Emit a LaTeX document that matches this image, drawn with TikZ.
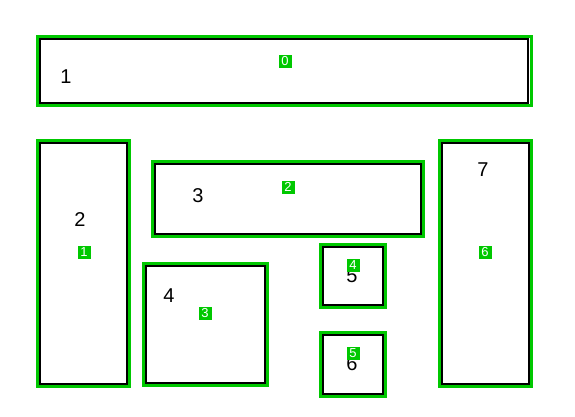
\documentclass[tikz,border=0pt]{standalone}
\usepackage{fontspec}
\setmainfont{Liberation Sans}
\usepackage{tikz}
\usetikzlibrary{positioning}
\definecolor{boxgreen}{RGB}{0,200,0}

\begin{document}
\begin{tikzpicture}[x=1pt,y=-1pt]
            \useasboundingbox (0,0) rectangle (575,416);
            \begin{scope}[every node/.style={rectangle,draw=black,line width=2pt,inner sep=0pt,outer sep=0pt}]
                \node[minimum width=488pt,minimum height=64pt] (r0) at (284,71) {};
                \node[minimum width=86.5pt,minimum height=241pt] (r1) at (83.25,263.5) {};
                \node[minimum width=265.5pt,minimum height=70pt] (r2) at (287.75,199) {};
                \node[minimum width=118.5pt,minimum height=117pt] (r3) at (205.25,324.5) {};
                \node[minimum width=59.5pt,minimum height=58pt] (r4) at (352.75,276) {};
                \node[minimum width=59.5pt,minimum height=58.5pt] (r5) at (352.75,364.25) {};
                \node[minimum width=86.5pt,minimum height=241pt] (r6) at (485.25,263.5) {};
            \end{scope}

            \begin{scope}[every path/.style={draw=boxgreen,line width=3pt}]
                \foreach \r in {r0,r1,r2,r3,r4,r5,r6}
                    \path ([xshift=-2.5pt,yshift=2.5pt]\r.north west) rectangle ([xshift=3pt,yshift=-2.5pt]\r.south east);
            \end{scope}

            \begin{scope}[every node/.style={font=\fontsize{20}{20}\selectfont,inner sep=0pt}]
                \node (t1) at (66,77) {1};
                \node (t2) at (80,220) {2};
                \node (t3) at (198,196) {3};
                \node (t4) at (169,296) {4};
                \node (t5) at (352,276) {5};
                \node (t6) at (352,364) {6};
                \node (t7) at (483,170) {7};
            \end{scope}

            \begin{scope}[every node/.style={fill=boxgreen,text=white,inner sep=0pt,minimum size=13pt,font=\fontsize{13}{13}\selectfont}]
                \node (g0) at (285,61) {0};
                \node (g1) at (84,252) {1};
                \node (g2) at (288,187) {2};
                \node (g3) at (205,313) {3};
                \node (g4) at (353,265) {4};
                \node (g5) at (353,353) {5};
                \node (g6) at (485,252) {6};
            \end{scope}
\end{tikzpicture}
\end{document}
